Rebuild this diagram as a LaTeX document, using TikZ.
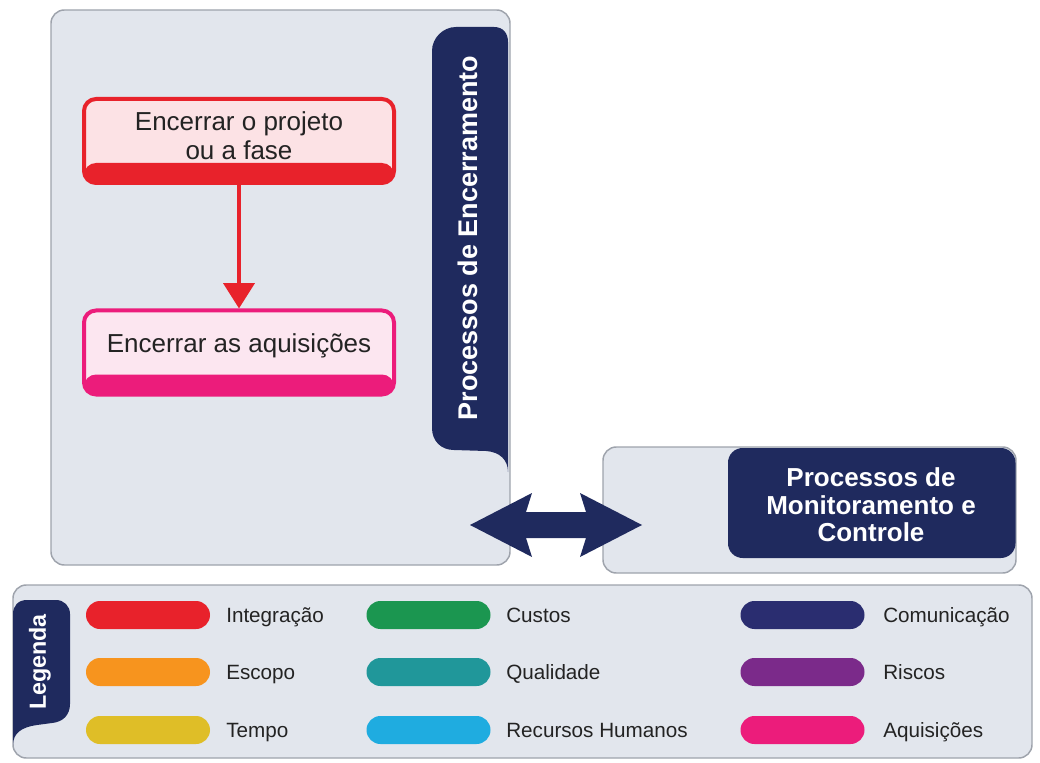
\documentclass[tikz,border=0pt]{standalone}
\usepackage{fontspec}
\setmainfont{Liberation Sans}
\usetikzlibrary{arrows.meta}

\definecolor{navy}{HTML}{1F2A5E}
\definecolor{panelfill}{HTML}{E2E6ED}
\definecolor{panelline}{HTML}{9EA3AC}
\definecolor{txt}{HTML}{232323}
\definecolor{intred}{HTML}{E8222B}
\definecolor{intfill}{HTML}{FCE2E5}
\definecolor{aqpink}{HTML}{EC1C7B}
\definecolor{aqfill}{HTML}{FCE6F0}
\definecolor{cEscopo}{HTML}{F7941E}
\definecolor{cTempo}{HTML}{DFBE27}
\definecolor{cCustos}{HTML}{1B9650}
\definecolor{cQualidade}{HTML}{20979A}
\definecolor{cRH}{HTML}{1FACE0}
\definecolor{cComunic}{HTML}{2A2D70}
\definecolor{cRiscos}{HTML}{7B2A8A}

\begin{document}
\begin{tikzpicture}[x=0.75pt,y=-0.75pt,
  panel/.style={draw=panelline, line width=1.1pt, fill=panelfill, rounded corners=10pt},
  procbox/.style={rectangle, rounded corners=9pt, line width=3pt, draw=#1,
    minimum width=232.5pt, minimum height=63pt, inner sep=0pt,
    path picture={\fill[#1] ([yshift=15pt]path picture bounding box.south west)
      rectangle (path picture bounding box.south east);}},
  boxtext/.style={align=center, text=txt, font=\fontsize{19.5pt}{21.5pt}\selectfont},
  headtext/.style={align=center, text=white, font=\bfseries\fontsize{19.5pt}{20.5pt}\selectfont},
  swatch/.style={rectangle, rounded corners=10.5pt, fill=#1, minimum width=93pt,
    minimum height=21pt, inner sep=0pt},
  legtext/.style={anchor=base west, text=txt, font=\fontsize{15.5pt}{18pt}\selectfont, inner sep=0pt}
]
\useasboundingbox (0,0) rectangle (1040,763);

% ---- closing processes group ----
\draw[panel] (51,10) rectangle (510,565);
\fill[navy] (508,472) -- (508,42) .. controls (508,33) and (503,27) .. (494,27)
  -- (456,27) .. controls (443,27) and (432,38) .. (432,51)
  -- (432,428) .. controls (432,441) and (441,450) .. (454,450)
  -- (486,451) .. controls (500,452) and (508,460) .. (508,472) -- cycle;
\node[headtext, font=\bfseries\fontsize{20.25pt}{22pt}\selectfont, rotate=90]
  (closingtitle) at (468,238) {Processos de Encerramento};

\node[procbox=intred, fill=intfill] (b1) at (239,141) {};
\node[boxtext] (t1) at (239,136) {Encerrar o projeto\\ou a fase};
\node[procbox=aqpink, fill=aqfill] (b2) at (239,352.5) {};
\node[boxtext] (t2) at (239,346) {Encerrar as aquisições};
\draw[intred, line width=3.5pt, -{Triangle[width=23pt,length=19pt]}] (b1.south) -- (b2.north);

% ---- monitoring and control group ----
\draw[panel] (603,447) rectangle (1016,573);
\fill[navy, rounded corners=11pt] (728,448) rectangle (1015.5,558);
\node[headtext] (montitle) at (871,505) {Processos de\\Monitoramento e\\Controle};

% ---- two-way arrow between the groups ----
\fill[navy] (470,525) -- (532,493) -- (526,512) -- (586,512) -- (580,493)
  -- (642,525) -- (580,557) -- (586,538) -- (526,538) -- (532,557) -- cycle;

% ---- legend ----
\draw[panel] (13,585) rectangle (1032,758);
\fill[navy] (13,614) .. controls (13,606) and (18,600) .. (27,600)
  -- (56,600) .. controls (64,600) and (70,606) .. (70,614)
  -- (70,704) .. controls (70,715) and (63,722) .. (52,723)
  -- (37,725) .. controls (22,727) and (13,733) .. (13,745) -- cycle;
\node[headtext, font=\bfseries\fontsize{17.5pt}{19pt}\selectfont, rotate=90]
  (legtitle) at (40,662) {Legenda};

\node[swatch=intred]     (s1) at (148,615) {};
\node[swatch=cEscopo]    (s2) at (148,672) {};
\node[swatch=cTempo]     (s3) at (148,730) {};
\node[swatch=cCustos]    (s4) at (428.5,615) {};
\node[swatch=cQualidade] (s5) at (428.5,672) {};
\node[swatch=cRH]        (s6) at (428.5,730) {};
\node[swatch=cComunic]   (s7) at (802.5,615) {};
\node[swatch=cRiscos]    (s8) at (802.5,672) {};
\node[swatch=aqpink]     (s9) at (802.5,730) {};

\node[legtext] (l1) at (226,622.5) {Integração};
\node[legtext] (l2) at (226,679.5) {Escopo};
\node[legtext] (l3) at (226,737.5) {Tempo};
\node[legtext] (l4) at (506,622.5) {Custos};
\node[legtext] (l5) at (506,679.5) {Qualidade};
\node[legtext] (l6) at (506,737.5) {Recursos Humanos};
\node[legtext] (l7) at (883,622.5) {Comunicação};
\node[legtext] (l8) at (883,679.5) {Riscos};
\node[legtext] (l9) at (883,737.5) {Aquisições};
\end{tikzpicture}
\end{document}
